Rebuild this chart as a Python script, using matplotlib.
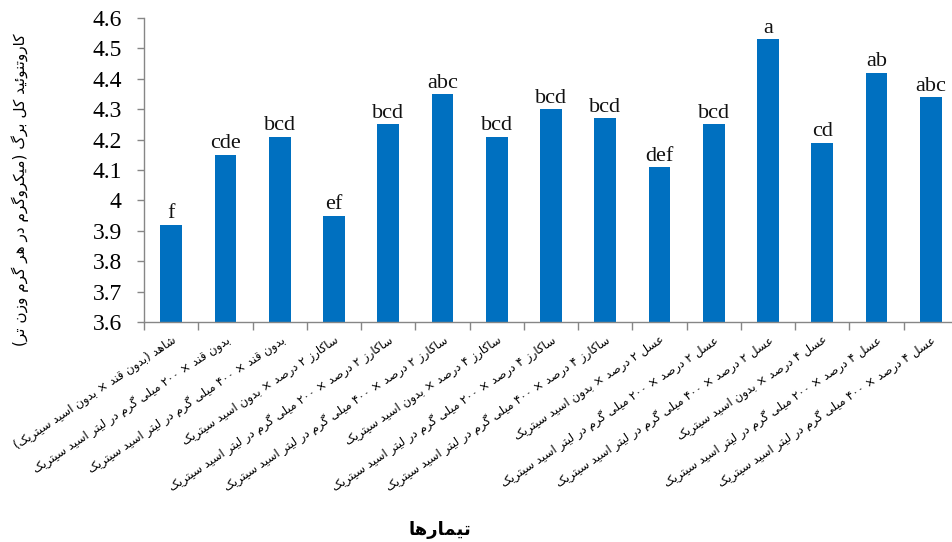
import matplotlib
matplotlib.use("Agg")
import matplotlib.pyplot as plt
from matplotlib import font_manager
from matplotlib.ft2font import FT2Font

categories = [
    "شاهد (بدون قند × بدون اسید سیتریک)",
    "بدون قند × ۲۰۰ میلی گرم در لیتر اسید سیتریک",
    "بدون قند × ۴۰۰ میلی گرم در لیتر اسید سیتریک",
    "ساکارز ۲ درصد × بدون اسید سیتریک",
    "ساکارز ۲ درصد × ۲۰۰ میلی گرم در لیتر اسید سیتریک",
    "ساکارز ۲ درصد × ۴۰۰ میلی گرم در لیتر اسید سیتریک",
    "ساکارز ۴ درصد × بدون اسید سیتریک",
    "ساکارز ۴ درصد × ۲۰۰ میلی گرم در لیتر اسید سیتریک",
    "ساکارز ۴ درصد × ۴۰۰ میلی گرم در لیتر اسید سیتریک",
    "عسل ۲ درصد × بدون اسید سیتریک",
    "عسل ۲ درصد × ۲۰۰ میلی گرم در لیتر اسید سیتریک",
    "عسل ۲ درصد × ۴۰۰ میلی گرم در لیتر اسید سیتریک",
    "عسل ۴ درصد × بدون اسید سیتریک",
    "عسل ۴ درصد × ۲۰۰ میلی گرم در لیتر اسید سیتریک",
    "عسل ۴ درصد × ۴۰۰ میلی گرم در لیتر اسید سیتریک",
]
values = [3.92, 4.15, 4.21, 3.95, 4.25, 4.35, 4.21, 4.30, 4.27, 4.11, 4.25, 4.53, 4.19, 4.42, 4.34]
letters = ["f", "cde", "bcd", "ef", "bcd", "abc", "bcd", "bcd", "bcd", "def", "bcd", "a", "cd", "ab", "abc"]
y_ticks = [3.6, 3.7, 3.8, 3.9, 4.0, 4.1, 4.2, 4.3, 4.4, 4.5, 4.6]
y_tick_labels = ["3.6", "3.7", "3.8", "3.9", "4", "4.1", "4.2", "4.3", "4.4", "4.5", "4.6"]
y_label = "کاروتنوئید کل برگ (میکروگرم در هر گرم وزن تر)"
x_label = "تیمارها"

# ---- minimal Arabic/Persian shaping + RTL ordering ----
FORMS = {  # iso, fin, ini, med  (None for right-joining)
    '\u0627': ('\uFE8D', '\uFE8E', None, None),
    '\u0622': ('\uFE81', '\uFE82', None, None),
    '\u0626': ('\uFE89', '\uFE8A', '\uFE8B', '\uFE8C'),
    '\u0628': ('\uFE8F', '\uFE90', '\uFE91', '\uFE92'),
    '\u067E': ('\uFB56', '\uFB57', '\uFB58', '\uFB59'),
    '\u062A': ('\uFE95', '\uFE96', '\uFE97', '\uFE98'),
    '\u062B': ('\uFE99', '\uFE9A', '\uFE9B', '\uFE9C'),
    '\u062C': ('\uFE9D', '\uFE9E', '\uFE9F', '\uFEA0'),
    '\u0686': ('\uFB7A', '\uFB7B', '\uFB7C', '\uFB7D'),
    '\u062D': ('\uFEA1', '\uFEA2', '\uFEA3', '\uFEA4'),
    '\u062E': ('\uFEA5', '\uFEA6', '\uFEA7', '\uFEA8'),
    '\u062F': ('\uFEA9', '\uFEAA', None, None),
    '\u0630': ('\uFEAB', '\uFEAC', None, None),
    '\u0631': ('\uFEAD', '\uFEAE', None, None),
    '\u0632': ('\uFEAF', '\uFEB0', None, None),
    '\u0698': ('\uFB8A', '\uFB8B', None, None),
    '\u0633': ('\uFEB1', '\uFEB2', '\uFEB3', '\uFEB4'),
    '\u0634': ('\uFEB5', '\uFEB6', '\uFEB7', '\uFEB8'),
    '\u0635': ('\uFEB9', '\uFEBA', '\uFEBB', '\uFEBC'),
    '\u0636': ('\uFEBD', '\uFEBE', '\uFEBF', '\uFEC0'),
    '\u0637': ('\uFEC1', '\uFEC2', '\uFEC3', '\uFEC4'),
    '\u0638': ('\uFEC5', '\uFEC6', '\uFEC7', '\uFEC8'),
    '\u0639': ('\uFEC9', '\uFECA', '\uFECB', '\uFECC'),
    '\u063A': ('\uFECD', '\uFECE', '\uFECF', '\uFED0'),
    '\u0641': ('\uFED1', '\uFED2', '\uFED3', '\uFED4'),
    '\u0642': ('\uFED5', '\uFED6', '\uFED7', '\uFED8'),
    '\u06A9': ('\uFB8E', '\uFB8F', '\uFB90', '\uFB91'),
    '\u0643': ('\uFED9', '\uFEDA', '\uFEDB', '\uFEDC'),
    '\u06AF': ('\uFB92', '\uFB93', '\uFB94', '\uFB95'),
    '\u0644': ('\uFEDD', '\uFEDE', '\uFEDF', '\uFEE0'),
    '\u0645': ('\uFEE1', '\uFEE2', '\uFEE3', '\uFEE4'),
    '\u0646': ('\uFEE5', '\uFEE6', '\uFEE7', '\uFEE8'),
    '\u0647': ('\uFEE9', '\uFEEA', '\uFEEB', '\uFEEC'),
    '\u0648': ('\uFEED', '\uFEEE', None, None),
    '\u06CC': ('\uFBFC', '\uFBFD', '\uFBFE', '\uFBFF'),
    '\u064A': ('\uFEF1', '\uFEF2', '\uFEF3', '\uFEF4'),
}


def _charmap(bold=False):
    path = font_manager.findfont(font_manager.FontProperties(
        family="DejaVu Sans", weight="bold" if bold else "normal"))
    return set(FT2Font(path).get_charmap().keys())


CMAP = _charmap(False)
CMAP_B = _charmap(True)


def shape(text, bold=False):
    cmap = CMAP_B if bold else CMAP
    out = []
    n = len(text)

    def dual(c):
        return c in FORMS and FORMS[c][2] is not None

    i = 0
    chars = list(text)
    while i < n:
        c = chars[i]
        prev = chars[i - 1] if i > 0 else ''
        joins_prev = dual(prev) and c in FORMS
        # lam-alef
        if c == '\u0644' and i + 1 < n and chars[i + 1] in ('\u0627', '\u0622'):
            lig = ('\uFEFB', '\uFEFC') if chars[i + 1] == '\u0627' else ('\uFEF5', '\uFEF6')
            g = lig[1] if joins_prev else lig[0]
            out.append(g if ord(g) in cmap else c + chars[i + 1])
            i += 2
            continue
        if c not in FORMS:
            out.append(c)
            i += 1
            continue
        nxt = chars[i + 1] if i + 1 < n else ''
        joins_next = dual(c) and nxt in FORMS
        iso, fin, ini, med = FORMS[c]
        if joins_prev and joins_next:
            g = med
        elif joins_prev:
            g = fin
        elif joins_next:
            g = ini
        else:
            g = iso
        out.append(g if ord(g) in cmap else c)
        i += 1
    s = ''.join(out)
    # visual order: reverse, keeping digit runs LTR, mirroring brackets
    rev = s[::-1]
    mirror = {'(': ')', ')': '('}
    res = []
    run = ''
    for ch in rev:
        if ch.isdigit() or ch == '.':
            run += ch
        else:
            if run:
                res.append(run[::-1])
                run = ''
            res.append(mirror.get(ch, ch))
    if run:
        res.append(run[::-1])
    return ''.join(res)


plt.rcParams['font.family'] = ['DejaVu Sans']

fig = plt.figure(figsize=(9.53, 5.42), dpi=100)
ax = fig.add_axes([144 / 953, (542 - 322) / 542, 814 / 953, 304 / 542])

x = list(range(len(values)))
ax.bar(x, [v - y_ticks[0] for v in values], bottom=y_ticks[0], width=0.4,
       color='#0070C0', zorder=2)
for xi, v, l in zip(x, values, letters):
    ax.annotate(l, (xi, v), xytext=(0, 1), textcoords='offset points',
                ha='center', va='bottom', fontsize=16,
                family='Liberation Serif', color='#111111')

ax.set_xlim(-0.5, len(values) - 0.5)
ax.set_ylim(y_ticks[0], y_ticks[-1])
ax.set_yticks(y_ticks)
ax.set_yticklabels(y_tick_labels, family='Liberation Serif', fontsize=17)

ax.set_xticks([i + 0.5 for i in range(-1, len(values))], minor=False)
ax.set_xticklabels([])
ax.set_xticks(x, minor=True)
ax.set_xticklabels([shape(c) for c in categories], minor=True,
                   rotation=34, ha='right', va='top', rotation_mode='anchor',
                   fontsize=8.6)
ax.tick_params(axis='x', which='minor', length=0, pad=8)
ax.tick_params(axis='x', which='major', length=6, width=1, color='#868686', direction='out')
ax.tick_params(axis='y', length=5, width=1, color='#868686', direction='out', pad=11)

for s in ['top', 'right']:
    ax.spines[s].set_visible(False)
for s in ['left', 'bottom']:
    ax.spines[s].set_color('#868686')
    ax.spines[s].set_linewidth(1)

fig.text(20 / 953, 1 - 190 / 542, shape(y_label), rotation=90, ha='center', va='center',
         fontsize=11)
fig.text(440 / 953, 1 - 530 / 542, shape(x_label, bold=True), ha='center', va='center',
         fontsize=13, fontweight='bold')

fig.savefig('out.png', dpi=100)
